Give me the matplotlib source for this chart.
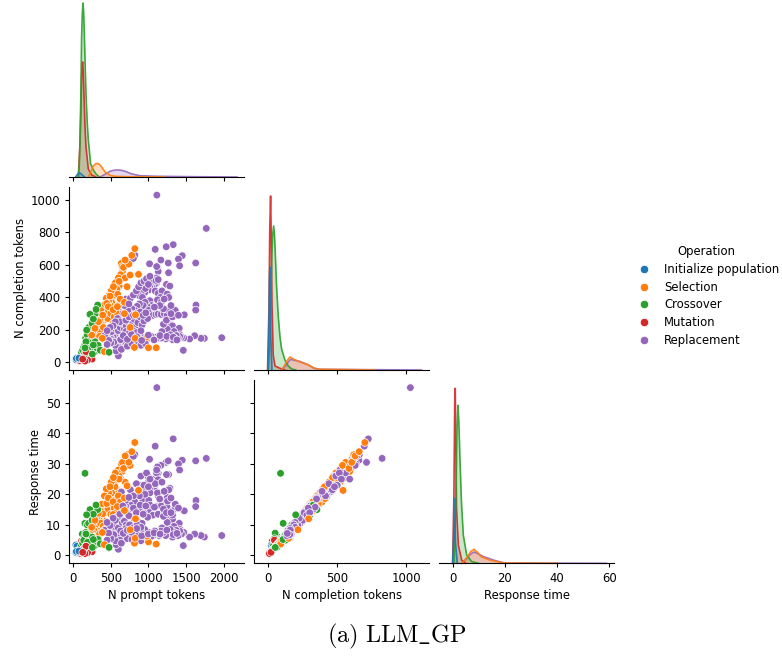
import matplotlib
matplotlib.use("Agg")
import numpy as np
import matplotlib.pyplot as plt
from matplotlib.lines import Line2D

operations = ["Initialize population", "Selection", "Crossover", "Mutation", "Replacement"]
colors = ["#1f77b4", "#ff7f0e", "#2ca02c", "#d62728", "#9467bd"]
variables = ["N prompt tokens", "N completion tokens", "Response time"]

# (prompt tokens, completion tokens, response time)
initialize = [
    (30, 18, 1.0), (45, 20, 1.1), (35, 22, 3.4), (50, 25, 3.0), (60, 18, 1.2), (40, 15, 0.9),
    (70, 30, 1.6), (55, 28, 1.5), (80, 22, 1.2), (65, 20, 1.1), (42, 24, 1.3), (75, 26, 1.4),
]
selection = [
    (640, 610, 30.0), (655, 560, 30.5), (630, 540, 25.0), (600, 520, 28.0), (650, 590, 27.5),
    (690, 520, 24.0), (720, 620, 33.0), (610, 470, 26.0), (580, 450, 21.5), (560, 490, 27.0),
    (540, 430, 23.5), (520, 400, 18.5), (555, 415, 22.5), (590, 420, 19.5), (510, 370, 20.5),
    (490, 350, 16.0), (470, 380, 20.5), (450, 330, 18.0), (430, 345, 16.0), (440, 300, 16.8),
    (420, 310, 14.0), (410, 270, 15.0), (395, 255, 11.5), (380, 300, 16.8), (370, 240, 13.2),
    (355, 260, 11.8), (345, 225, 12.5), (330, 200, 9.0), (320, 230, 12.8), (310, 190, 8.5),
    (300, 175, 10.0), (285, 180, 8.0), (270, 150, 8.4), (260, 190, 10.5), (250, 140, 6.2),
    (240, 145, 8.2), (225, 125, 5.6), (215, 130, 7.3), (360, 190, 10.6), (400, 215, 9.6),
    (350, 160, 7.0), (460, 270, 15.0), (500, 300, 13.5), (545, 280, 15.5), (600, 350, 19.5),
    (625, 390, 17.5), (575, 310, 14.0), (530, 240, 13.4), (470, 200, 9.0), (420, 150, 8.5),
    (505, 440, 24.0), (470, 410, 18.6), (440, 395, 21.8), (415, 355, 19.5), (365, 320, 14.5),
    (610, 499, 25.0), (757, 538, 29.5), (534, 466, 25.5), (716, 466, 22.8), (489, 408, 22.5),
    (445, 363, 17.0), (467, 343, 18.8), (392, 291, 13.6), (530, 324, 17.6), (587, 343, 16.0),
    (334, 250, 13.8), (289, 209, 11.5), (245, 168, 9.2), (387, 148, 7.5), (414, 66, 3.5),
    (681, 300, 14.7), (681, 370, 18.8), (668, 585, 28.5), (739, 605, 30.5), (690, 630, 32.6),
    (779, 659, 34.0), (819, 700, 37.0), (868, 542, 21.3), (814, 92, 4.0), (1001, 90, 4.4),
    (1104, 90, 3.7), (979, 156, 6.3), (823, 148, 5.6), (757, 215, 8.4), (828, 293, 12.0),
]
crossover = [
    (130, 40, 2.0), (115, 35, 1.8), (100, 45, 2.3), (95, 30, 1.6), (205, 55, 2.8),
    (225, 70, 3.5), (180, 40, 2.1), (160, 30, 1.7), (140, 25, 1.4), (270, 80, 4.0),
    (240, 60, 3.0), (285, 65, 3.2), (120, 55, 7.0), (135, 43, 4.8), (150, 72, 6.0),
    (175, 50, 7.3), (195, 45, 5.5), (210, 35, 2.9), (165, 20, 1.2), (125, 18, 1.1),
    (110, 28, 1.5), (145, 35, 2.0), (170, 45, 2.4), (190, 58, 3.1), (215, 50, 2.6),
    (235, 42, 2.2), (255, 70, 3.6), (105, 22, 1.2), (120, 32, 1.7), (155, 55, 2.9),
    (110, 60, 3.2), (125, 75, 4.0), (140, 95, 5.0), (155, 108, 10.5), (165, 150, 7.5),
    (185, 170, 10.0), (205, 215, 10.5), (250, 240, 11.5), (295, 300, 13.0), (200, 130, 6.5),
    (220, 110, 5.5), (235, 95, 4.8), (250, 120, 6.0), (290, 127, 5.0), (310, 90, 4.5),
    (330, 105, 5.2), (360, 75, 3.8), (190, 85, 4.3), (170, 60, 3.0), (150, 50, 2.5),
    (325, 353, 15.0), (303, 326, 16.5), (222, 296, 15.0), (267, 267, 13.5), (178, 199, 13.3),
    (169, 127, 7.0), (476, 62, 2.6), (267, 107, 5.2), (254, 51, 2.6), (156, 89, 26.9),
]
mutation = [
    (150, 25, 1.4), (130, 18, 1.1), (95, 12, 0.8),
    (110, 30, 4.7), (140, 35, 2.0), (175, 28, 1.5), (185, 40, 2.1), (200, 22, 1.3),
    (215, 48, 2.5), (160, 45, 5.0), (125, 38, 2.0), (145, 50, 2.6), (105, 22, 1.3),
    (230, 35, 1.9), (250, 20, 1.2), (190, 15, 0.9), (85, 10, 0.7), (135, 12, 0.8),
    (155, 8, 0.6), (120, 25, 1.5), (169, 66, 3.0), (125, 20, 1.0),
]
replacement = [
    (1112, 1030, 55.0), (1770, 825, 31.8), (1330, 725, 38.2), (1237, 712, 30.5), (1090, 696, 35.8),
    (1450, 657, 31.2), (1400, 636, 30.0), (1415, 595, 28.0), (1015, 607, 31.5), (1166, 630, 29.5),
    (1264, 612, 31.0), (1629, 612, 31.0), (1121, 585, 29.0), (1268, 552, 26.5), (1130, 560, 27.0),
    (1110, 590, 25.0), (820, 660, 33.0), (800, 640, 32.5), (1240, 480, 26.5), (1285, 470, 22.0),
    (1108, 490, 27.0), (1080, 478, 22.5), (1050, 460, 25.0), (1020, 470, 21.5), (990, 480, 26.0),
    (1060, 500, 24.0), (1110, 520, 28.0), (1100, 505, 23.5), (1130, 510, 24.8), (1000, 445, 24.0),
    (950, 430, 20.0), (905, 430, 23.0), (960, 455, 21.0), (880, 410, 22.0), (920, 400, 18.5),
    (1090, 440, 23.5), (1130, 425, 19.5), (1180, 440, 24.0), (1250, 420, 19.0), (1270, 400, 21.5),
    (1160, 400, 18.0), (1120, 385, 20.5), (1170, 370, 16.8), (1020, 380, 20.5), (1040, 350, 16.0),
    (1005, 330, 18.0), (985, 345, 15.5), (955, 370, 20.0), (930, 350, 16.0), (880, 360, 19.5),
    (850, 345, 15.5), (820, 320, 17.5), (780, 330, 15.0), (760, 300, 16.5), (725, 320, 14.5),
    (700, 290, 16.0), (680, 350, 15.5), (640, 270, 15.0), (610, 310, 14.0), (640, 380, 20.8),
    (700, 390, 18.0), (760, 395, 21.5), (1000, 320, 14.8), (1020, 300, 16.5), (1060, 290, 13.2),
    (1100, 295, 16.0), (1130, 298, 13.5), (1170, 295, 16.2), (1210, 300, 13.8), (1250, 290, 15.8),
    (1330, 320, 14.8), (1357, 291, 15.8), (1477, 293, 14.6), (1633, 353, 18.0), (1629, 322, 16.0),
    (1255, 326, 17.8), (1357, 320, 16.8), (1270, 240, 12.8), (1300, 230, 11.0), (1320, 225, 11.8),
    (1410, 210, 10.5), (1340, 190, 9.5), (1420, 170, 8.5), (1250, 205, 10.8), (1180, 190, 9.0),
    (1976, 152, 6.5), (1744, 148, 6.0), (1700, 148, 6.5), (1615, 164, 7.0), (1548, 144, 6.0),
    (1464, 74, 3.2), (1470, 150, 7.5), (1440, 155, 7.0), (1415, 160, 8.0), (1395, 145, 6.5),
    (1370, 165, 8.2), (1345, 150, 7.5), (1320, 140, 6.0), (1290, 170, 8.5), (1260, 150, 7.0),
    (1230, 145, 6.5), (1200, 155, 7.5), (1170, 150, 8.0), (1140, 160, 6.5), (1110, 148, 7.0),
    (1085, 155, 8.0), (1060, 145, 6.5), (1035, 160, 6.2), (1005, 150, 7.5), (975, 140, 6.0),
    (950, 155, 8.5), (920, 148, 7.0), (895, 165, 8.2), (870, 150, 6.5), (840, 145, 7.5),
    (810, 160, 6.0), (785, 150, 8.0), (760, 170, 8.5), (735, 145, 6.8), (710, 155, 7.5),
    (690, 165, 8.3), (665, 150, 6.2), (640, 175, 8.8), (620, 145, 7.0), (600, 160, 8.0),
    (575, 150, 7.4), (550, 170, 8.5), (530, 155, 7.8), (505, 145, 7.2), (480, 160, 8.0),
    (460, 175, 8.8), (440, 150, 7.5), (420, 165, 8.2), (760, 130, 6.8), (700, 120, 5.5),
    (660, 110, 6.0), (620, 100, 4.5), (590, 115, 6.2), (600, 40, 2.0), (620, 90, 5.0),
    (570, 70, 3.5), (560, 105, 4.8), (640, 80, 4.0), (540, 125, 6.8), (720, 100, 5.5),
    (780, 115, 5.2), (860, 120, 6.5), (900, 105, 4.8), (960, 115, 6.2), (500, 120, 5.5),
    (470, 135, 7.3), (450, 110, 5.0), (510, 190, 10.5), (545, 210, 9.5), (575, 230, 12.5),
    (600, 195, 9.0), (625, 215, 11.8), (650, 240, 10.8), (680, 205, 11.2), (705, 225, 10.0),
    (730, 250, 13.8), (755, 210, 9.8), (785, 235, 12.8), (810, 265, 12.0), (835, 220, 12.0),
    (860, 245, 11.0), (890, 280, 15.0), (915, 230, 10.5), (940, 255, 13.8), (990, 270, 12.5),
    (1200, 235, 12.8), (660, 300, 16.2), (590, 270, 12.5), (620, 250, 13.5), (560, 250, 11.5),
    (530, 225, 12.2), (490, 215, 9.8), (450, 195, 10.8), (700, 260, 14.2), (740, 280, 13.0),
    (800, 290, 15.5), (840, 300, 14.0), (890, 310, 16.5), (930, 290, 13.5), (965, 305, 16.2),
    (700, 190, 8.8), (750, 185, 10.0), (800, 195, 9.0), (850, 185, 10.0), (900, 195, 9.2),
    (800, 415, 19.5), (840, 440, 23.5), (870, 465, 21.5), (900, 490, 26.0), (940, 500, 23.0),
    (975, 515, 27.0), (1020, 530, 25.0), (1000, 480, 22.5), (740, 360, 19.0), (1300, 350, 18.8),
    (1200, 330, 15.2), (1150, 350, 18.5), (1080, 340, 15.8), (1240, 260, 14.0), (1320, 280, 13.2),
    (1400, 290, 15.5), (1300, 300, 14.0), (1210, 390, 21.0), (630, 140, 8.0), (665, 165, 7.2),
    (720, 142, 8.2), (775, 172, 7.6), (845, 158, 8.8), (910, 135, 6.4), (1000, 168, 7.0),
    (1075, 138, 7.4), (1155, 165, 7.0), (1245, 160, 8.3), (1330, 155, 6.8), (1380, 138, 7.2),
]

# KDE outlines on the diagonal: x in data units, height above the baseline in reference pixels
prompt_kde_x = {
    "Initialize population": [30, 60, 90, 120, 150],
    "Selection": [200, 231, 267, 295, 320, 350, 378, 423, 489, 556, 712, 1224],
    "Crossover": [67, 80, 89, 100, 111, 120, 129, 138, 147, 158, 169, 185, 200, 231, 267, 303, 347],
    "Mutation": [67, 89, 100, 111, 118, 125, 133, 142, 155, 169, 200, 245, 300],
    "Replacement": [356, 423, 489, 540, 587, 640, 690, 779, 890, 1112, 1602, 2180],
}
prompt_kde_y = {
    "Initialize population": [0, 3, 4, 2, 0],
    "Selection": [0, 5, 11, 13, 13.7, 12.5, 10, 5, 1.7, 0.7, 0.3, 0],
    "Crossover": [0, 12, 33, 80, 140, 163, 174, 165, 143, 112, 83, 55, 37, 13, 7, 3, 0],
    "Mutation": [0, 33, 62, 100, 112, 115, 105, 83, 52, 30, 8, 2, 0],
    "Replacement": [0, 2.7, 5.7, 6.7, 7, 6.7, 5.7, 3, 1.3, 0.7, 0.3, 0],
}
completion_kde_x = {
    "Initialize population": [0, 5, 9, 12, 15, 18, 27],
    "Selection": [97, 120, 140, 157, 175, 227, 288, 330, 360, 773],
    "Crossover": [0, 12, 25, 32, 39, 45, 50, 60, 72, 85, 97, 121, 145, 170, 200],
    "Mutation": [-5, 5, 11, 17, 22, 27, 36, 49, 85, 120],
    "Replacement": [97, 125, 145, 162, 180, 227, 288, 330, 372, 1110],
}
completion_kde_y = {
    "Initialize population": [0, 40, 90, 103, 80, 35, 0],
    "Selection": [0, 5, 10, 13, 11.5, 8, 5.3, 2, 0.7, 0],
    "Crossover": [0, 30, 110, 135, 144, 136, 120, 85, 55, 33, 21, 10, 4, 1, 0],
    "Mutation": [0, 60, 140, 174, 130, 67, 15, 4, 1.7, 0],
    "Replacement": [0, 4, 8, 10.7, 10, 8.7, 5.3, 2, 0.7, 0],
}
time_kde_x = {
    "Initialize population": [0, 0.4, 0.77, 1.1, 1.8],
    "Selection": [3.5, 5.5, 7, 8.2, 9.5, 11, 14.5, 19.5, 40],
    "Crossover": [0.5, 1.2, 1.7, 2.04, 2.4, 2.8, 3.4, 4.1, 5.4, 7.3, 9.9],
    "Mutation": [0, 0.5, 0.8, 1.0, 1.25, 1.5, 2.2, 3.5, 5],
    "Replacement": [3.5, 5.5, 7, 8.2, 9.8, 11.8, 16.3, 20, 58.8],
}
time_kde_y = {
    "Initialize population": [0, 25, 65, 20, 0],
    "Selection": [0, 6, 12, 14, 11, 6.3, 3, 0.3, 0],
    "Crossover": [0, 55, 135, 158, 140, 105, 60, 28, 8, 1.7, 0],
    "Mutation": [0, 70, 160, 175, 120, 55, 18, 3, 0],
    "Replacement": [0, 5, 9.5, 11.3, 9.5, 6.7, 2.7, 0.3, 0],
}
kde_x = [prompt_kde_x, completion_kde_x, time_kde_x]
kde_y = [prompt_kde_y, completion_kde_y, time_kde_y]

limits = [(-53, 2276), (-101, 1167), (-5.1, 61.9)]
y_limits = [None, (-47, 1080), (-2.6, 57.4)]
ticks = [[0, 500, 1000, 1500, 2000], [0, 500, 1000], [0, 20, 40, 60]]
y_ticks = [None, [0, 200, 400, 600, 800, 1000], [0, 10, 20, 30, 40, 50]]

W, H = 782, 657
lefts = [69.3, 254.3, 439.3]
tops = [-6, 187, 380.3]
panel_w, panel_h = 175, 183
label_size = 8.35

# data order runs generation by generation, so the operations overlap each other
groups = [initialize, selection, crossover, mutation, replacement]
rows, row_colors, progress = [], [], []
for g, col in zip(groups, colors):
    for i, row in enumerate(g):
        rows.append(row)
        row_colors.append(col)
        progress.append(i / len(g))
order = np.argsort(progress)
rows = np.array(rows)[order]
row_colors = [row_colors[i] for i in order]

fig = plt.figure(figsize=(W / 100, H / 100), dpi=100)

for r in range(3):
    for c in range(r + 1):
        ax = fig.add_axes([lefts[c] / W, 1 - (tops[r] + panel_h) / H, panel_w / W, panel_h / H])
        ax.spines[["top", "right"]].set_visible(False)
        ax.set_xlim(limits[c])
        ax.set_xticks(ticks[c])
        ax.tick_params(labelsize=label_size, length=3.2, pad=3)

        if r == c:
            # reversed so Selection and Initialize population end up on top
            for name, color in reversed(list(zip(operations, colors))):
                ax.fill_between(kde_x[c][name], kde_y[c][name], color=color, alpha=0.25, lw=0)
                ax.plot(kde_x[c][name], kde_y[c][name], color=color, lw=1.2, alpha=0.9, clip_on=False)
            ax.set_ylim(0, panel_h)
            ax.spines["left"].set_visible(False)
            ax.set_yticks([])
        else:
            ax.scatter(rows[:, c], rows[:, r], c=row_colors, s=30, edgecolors="white", linewidths=0.5)
            ax.set_ylim(y_limits[r])
            ax.set_yticks(y_ticks[r])

        if r == 2:
            ax.set_xlabel(variables[c], fontsize=label_size, labelpad=3)
        else:
            ax.tick_params(labelbottom=False)
        if c == 0 and r > 0:
            ax.set_ylabel(variables[r], fontsize=label_size, labelpad=3)
        elif r != c:
            ax.tick_params(labelleft=False)

handles = [Line2D([], [], ls="", marker="o", ms=6, color=col, mec="white", mew=0.5) for col in colors]
fig.legend(handles, operations, title="Operation", frameon=False, fontsize=label_size,
           title_fontsize=label_size, loc="center left", bbox_to_anchor=(622 / W, 1 - 296 / H),
           labelspacing=0.4, handletextpad=0.75)

plt.rcParams["mathtext.fontset"] = "cm"
fig.text(397 / W, 1 - 636 / H, r"$\mathrm{(a)\ LLM\_GP}$", ha="center", va="center", fontsize=17.5)

fig.savefig("out.png", dpi=100)
